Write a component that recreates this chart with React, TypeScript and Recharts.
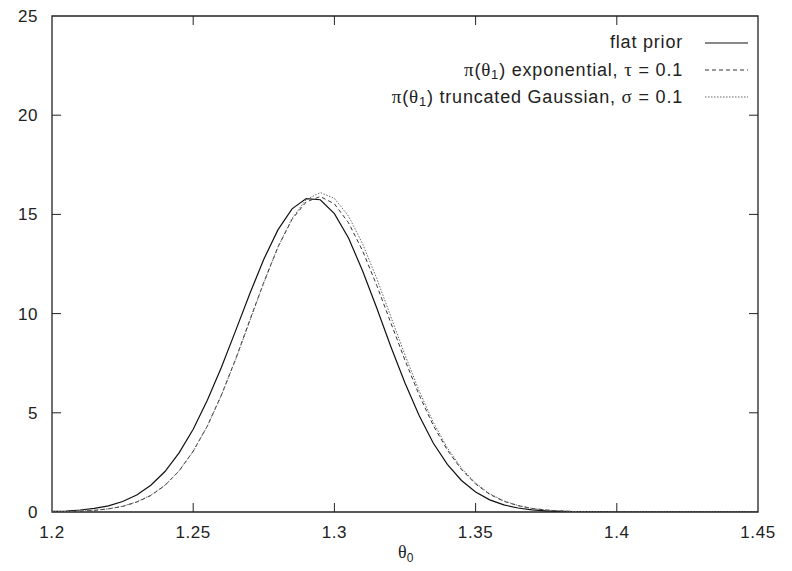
import React from 'react'
import { LineChart, Line, XAxis, YAxis, ReferenceArea } from 'recharts'

// posterior densities for theta_0
const thetaValues = [
  1.2, 1.205, 1.21, 1.215, 1.22, 1.225, 1.23, 1.235, 1.24, 1.245,
  1.25, 1.255, 1.26, 1.265, 1.27, 1.275, 1.28, 1.285, 1.29, 1.295,
  1.3, 1.305, 1.31, 1.315, 1.32, 1.325, 1.33, 1.335, 1.34, 1.345,
  1.35, 1.355, 1.36, 1.365, 1.37, 1.375, 1.38, 1.385, 1.39, 1.395,
  1.4, 1.405, 1.41, 1.415, 1.42, 1.425, 1.43, 1.435, 1.44, 1.445, 1.45,
]

const flatPrior = [
  0.03, 0.05, 0.1, 0.18, 0.31, 0.53, 0.86, 1.35, 2.04, 2.98,
  4.17, 5.63, 7.3, 9.13, 10.99, 12.74, 14.22, 15.28, 15.8, 15.74,
  15.04, 13.81, 12.15, 10.28, 8.33, 6.5, 4.86, 3.48, 2.4, 1.59,
  1.01, 0.61, 0.36, 0.2, 0.11, 0.06, 0.03, 0.015, 0.007, 0.003,
  0.001, 0, 0, 0, 0, 0, 0, 0, 0, 0, 0,
]

const exponentialPrior = [
  0.01, 0.02, 0.04, 0.08, 0.16, 0.28, 0.5, 0.83, 1.34, 2.07,
  3.06, 4.33, 5.9, 7.7, 9.65, 11.58, 13.35, 14.75, 15.63, 15.9,
  15.53, 14.58, 13.16, 11.42, 9.53, 7.65, 5.9, 4.37, 3.12, 2.14,
  1.41, 0.89, 0.54, 0.32, 0.18, 0.1, 0.05, 0.025, 0.012, 0.005,
  0.002, 0.001, 0, 0, 0, 0, 0, 0, 0, 0, 0,
]

const gaussianPrior = [
  0.01, 0.02, 0.04, 0.09, 0.16, 0.29, 0.51, 0.85, 1.35, 2.07,
  3.06, 4.33, 5.88, 7.67, 9.61, 11.55, 13.35, 14.8, 15.75, 16.1,
  15.81, 14.91, 13.51, 11.77, 9.84, 7.91, 6.11, 4.53, 3.23, 2.21,
  1.46, 0.92, 0.56, 0.33, 0.18, 0.1, 0.05, 0.02, 0.01, 0.005,
  0.002, 0.001, 0, 0, 0, 0, 0, 0, 0, 0, 0,
]

const xTicks = [1.2, 1.25, 1.3, 1.35, 1.4, 1.45]
const yTicks = [0, 5, 10, 15, 20, 25]

const data = thetaValues.map((theta, i) => ({
  theta,
  flat: flatPrior[i],
  exponential: exponentialPrior[i],
  gaussian: gaussianPrior[i],
}))

const FONT = '"Liberation Sans", Arial, sans-serif'
const GREEK = '"Liberation Serif", "DejaVu Serif", serif'
const INK = '#222'

// plot box edges, used for the inward gnuplot-style ticks
const PLOT_LEFT = 52
const PLOT_RIGHT = 758
const PLOT_TOP = 16
const PLOT_BOTTOM = 512
const TICK_LEN = 9

function XTick(props: any) {
  const { x, payload } = props
  const edge = payload.value === 1.2 || payload.value === 1.45
  return (
    <g>
      {!edge && (
        <>
          <line x1={x} x2={x} y1={PLOT_BOTTOM} y2={PLOT_BOTTOM - TICK_LEN} stroke={INK} />
          <line x1={x} x2={x} y1={PLOT_TOP} y2={PLOT_TOP + TICK_LEN} stroke={INK} />
        </>
      )}
      <text x={x} y={PLOT_BOTTOM + 26} textAnchor="middle" fontFamily={FONT} fontSize={17} letterSpacing={0.6} fill={INK}>
        {payload.value}
      </text>
    </g>
  )
}

function YTick(props: any) {
  const { y, payload } = props
  const edge = payload.value === 0 || payload.value === 25
  return (
    <g>
      {!edge && (
        <>
          <line x1={PLOT_LEFT} x2={PLOT_LEFT + TICK_LEN} y1={y} y2={y} stroke={INK} />
          <line x1={PLOT_RIGHT} x2={PLOT_RIGHT - TICK_LEN} y1={y} y2={y} stroke={INK} />
        </>
      )}
      <text x={PLOT_LEFT - 14} y={y + 6} textAnchor="end" fontFamily={FONT} fontSize={17} letterSpacing={0.6} fill={INK}>
        {payload.value}
      </text>
    </g>
  )
}

function AxisTitle() {
  return (
    <text x={398} y={558} fontFamily={GREEK} fontSize={18} fill={INK}>
      θ<tspan dy={4} fontFamily={FONT} fontSize={12}>0</tspan>
    </text>
  )
}

const Greek = ({ children }: { children: React.ReactNode }) => (
  <span style={{ fontFamily: GREEK, fontSize: 19 }}>{children}</span>
)

const Sub = ({ children }: { children: React.ReactNode }) => (
  <sub style={{ fontSize: 13, verticalAlign: -3, lineHeight: 0 }}>{children}</sub>
)

const legendRows = [
  { key: 'flat', label: <>flat prior</>, dash: undefined, color: '#111' },
  {
    key: 'exp',
    label: (
      <>
        <Greek>π</Greek>(<Greek>θ</Greek><Sub>1</Sub>) exponential, <Greek>τ</Greek> = 0.1
      </>
    ),
    dash: '4 3',
    color: '#333',
  },
  {
    key: 'gauss',
    label: (
      <>
        <Greek>π</Greek>(<Greek>θ</Greek><Sub>1</Sub>) truncated Gaussian, <Greek>σ</Greek> = 0.1
      </>
    ),
    dash: '1.5 1.5',
    color: '#666',
  },
]

function PriorLegend() {
  return (
    <div
      style={{ position: 'absolute', top: 29, right: 44, fontFamily: FONT, fontSize: 18, letterSpacing: 0.8, color: INK }}
    >
      {legendRows.map((row) => (
        <div
          key={row.key}
          style={{ display: 'flex', justifyContent: 'flex-end', alignItems: 'center', height: 27, whiteSpace: 'nowrap' }}
        >
          <span>{row.label}</span>
          <svg width={43} height={10} style={{ marginLeft: 22 }}>
            <line x1={0} x2={43} y1={5} y2={5} stroke={row.color} strokeWidth={1} strokeDasharray={row.dash} />
          </svg>
        </div>
      ))}
    </div>
  )
}

export default function App() {
  return (
    <div style={{ position: 'relative', width: 792, height: 571, background: '#fff' }}>
      <style>{'body { margin: 0; }'}</style>
      <LineChart width={792} height={571} data={data} margin={{ top: 16, right: 34, bottom: 0, left: 0 }}>
        <XAxis
          type="number"
          dataKey="theta"
          domain={[1.2, 1.45]}
          ticks={xTicks}
          interval={0}
          allowDataOverflow
          axisLine={false}
          tickLine={false}
          tick={<XTick />}
          height={59}
          label={<AxisTitle />}
        />
        <YAxis
          type="number"
          domain={[0, 25]}
          ticks={yTicks}
          interval={0}
          allowDataOverflow
          axisLine={false}
          tickLine={false}
          tick={<YTick />}
          width={52}
        />
        <ReferenceArea x1={1.2} x2={1.45} y1={0} y2={25} fill="none" stroke={INK} strokeWidth={1.3} ifOverflow="visible" />
        <Line
          dataKey="flat"
          type="linear"
          stroke="#111"
          strokeWidth={1.2}
          dot={false}
          isAnimationActive={false}
        />
        <Line
          dataKey="exponential"
          type="linear"
          stroke="#333"
          strokeWidth={1}
          strokeDasharray="4 3"
          dot={false}
          isAnimationActive={false}
        />
        <Line
          dataKey="gaussian"
          type="linear"
          stroke="#666"
          strokeWidth={1}
          strokeDasharray="1.5 1.5"
          dot={false}
          isAnimationActive={false}
        />
      </LineChart>
      <PriorLegend />
    </div>
  )
}
